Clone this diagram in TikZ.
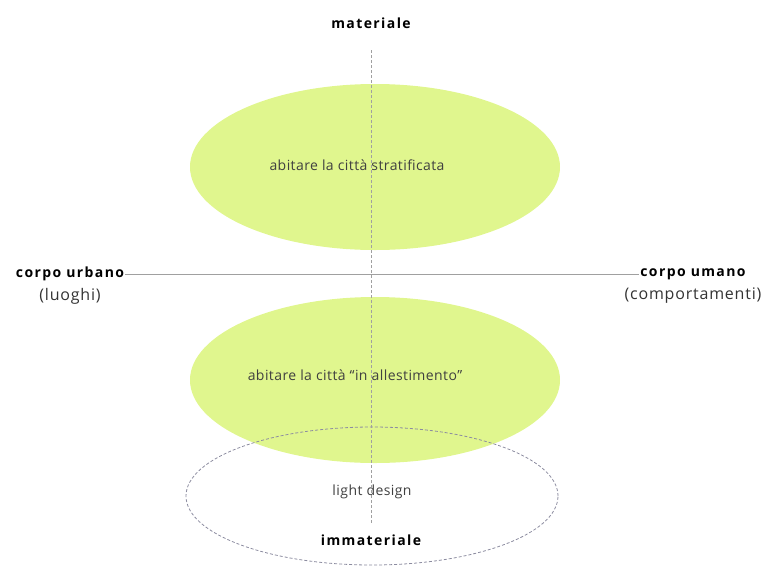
\documentclass[tikz,border=0pt]{standalone}
\usepackage{fontspec}
\setmainfont{Open Sans}
\newfontfamily\polefont[LetterSpace=10]{Open Sans}
\newfontfamily\sidefont[LetterSpace=5]{Open Sans}
\newfontfamily\insidefont[LetterSpace=3]{Open Sans}
\usetikzlibrary{shapes.geometric}

\definecolor{lightlime}{RGB}{224,246,142}
\definecolor{axisgray}{RGB}{160,160,160}
\definecolor{dashgray}{RGB}{140,140,160}

\begin{document}
\begin{tikzpicture}[x=1pt,y=-1pt]
	\tikzstyle{blob}=[ellipse, fill=lightlime, minimum width=370pt, minimum height=166pt]
	\tikzstyle{halo}=[ellipse, draw=dashgray, dash pattern=on 3pt off 2pt, thick, minimum width=372pt, minimum height=138pt]
	\tikzstyle{pole}=[font=\polefont\fontsize{14}{16}\selectfont\bfseries, inner sep=1pt]
	\tikzstyle{side}=[font=\sidefont\fontsize{16}{18}\selectfont, text=black!80]
	\tikzstyle{inside}=[font=\insidefont\fontsize{14}{16}\selectfont, text=black!75]

    \useasboundingbox (0,0) rectangle (762,579);

    \node [blob] (strat) at (375,167) {};
    \node [blob] (allest) at (375,380) {};
    \node [halo] (light) at (372,496) {};

    \node [inside] (t1) at (357,165) {abitare la città stratificata};
    \node [inside] (t2) at (355,375) {abitare la città “in allestimento”};
    \node [inside] (t3) at (372,492) {light design};

    \node [pole] (mat) at (371,23) {materiale};
    \node [pole] (immat) at (371,540) {immateriale};
    \coordinate (top) at (371,50);
    \coordinate (bottom) at (371,523);
    \draw[axisgray, dash pattern=on 3pt off 2pt] (top) -- (bottom);

    \node [pole] (urbano) at (70,274) {corpo urbano};
    \node [side] (luoghi) [below of=urbano, node distance=22pt] {(luoghi)};
    \node [pole] (umano) at (693,274) {corpo umano};
    \node [side] (compo) [below of=umano, node distance=22pt] {(comportamenti)};

    \draw[axisgray] (urbano) -- (umano);
\end{tikzpicture}
\end{document}
